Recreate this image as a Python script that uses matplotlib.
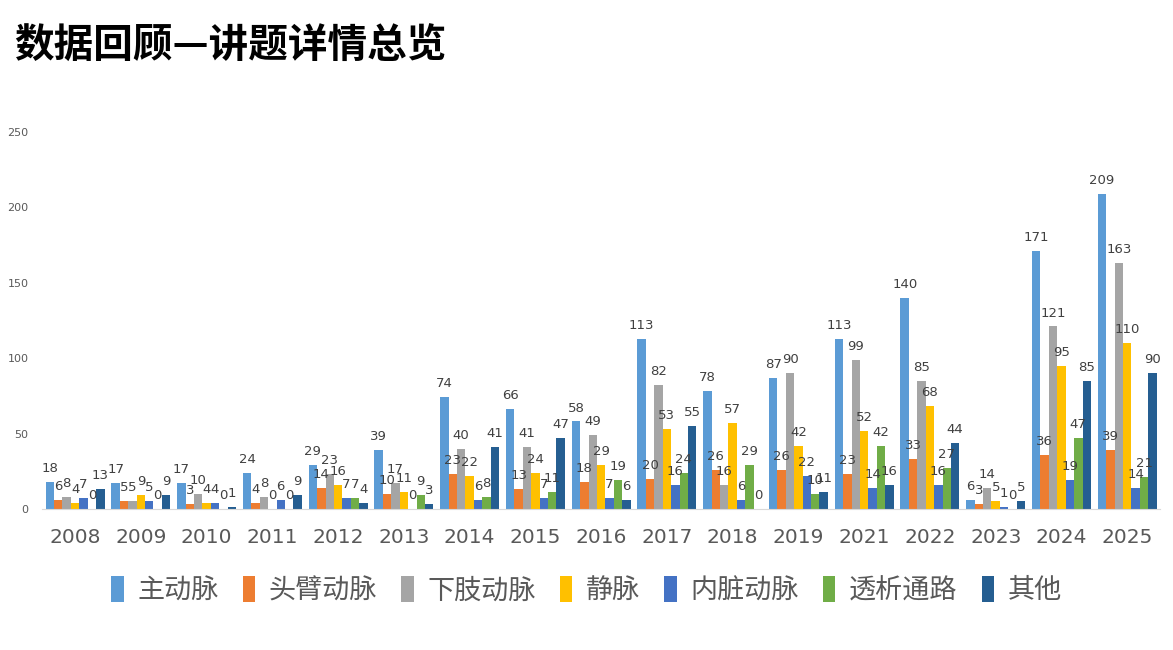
import matplotlib.pyplot as plt
import numpy as np

plt.rcParams['font.family'] = ['Noto Sans CJK SC', 'DejaVu Sans']

years = ['2008', '2009', '2010', '2011', '2012', '2013', '2014', '2015', '2016',
         '2017', '2018', '2019', '2021', '2022', '2023', '2024', '2025']
series_names = ['主动脉', '头臂动脉', '下肢动脉', '静脉', '内脏动脉', '透析通路', '其他']

aorta = [18, 17, 17, 24, 29, 39, 74, 66, 58, 113, 78, 87, 113, 140, 6, 171, 209]
brachiocephalic = [6, 5, 3, 4, 14, 10, 23, 13, 18, 20, 26, 26, 23, 33, 3, 36, 39]
lower_limb = [8, 5, 10, 8, 23, 17, 40, 41, 49, 82, 16, 90, 99, 85, 14, 121, 163]
vein = [4, 9, 4, 0, 16, 11, 22, 24, 29, 53, 57, 42, 52, 68, 5, 95, 110]
visceral = [7, 5, 4, 6, 7, 0, 6, 7, 7, 16, 6, 22, 14, 16, 1, 19, 14]
dialysis = [0, 0, 0, 0, 7, 9, 8, 11, 19, 24, 29, 10, 42, 27, 0, 47, 21]
other = [13, 9, 1, 9, 4, 3, 41, 47, 6, 55, 0, 11, 16, 44, 5, 85, 90]

data = [aorta, brachiocephalic, lower_limb, vein, visceral, dialysis, other]
colors = ['#5B9BD5', '#ED7D31', '#A5A5A5', '#FFC000', '#4472C4', '#70AD47', '#255E91']

fig = plt.figure(figsize=(11.73, 6.5), dpi=100)
ax = fig.add_axes([0.036, 0.217, 0.953, 0.58])

x = np.arange(len(years))
width = 0.128
for i, (vals, c, name) in enumerate(zip(data, colors, series_names)):
    pos = x + (i - 3) * width
    bars = ax.bar(pos, vals, width, color=c, label=name)
    for b, v in zip(bars, vals):
        ax.annotate(str(v), xy=(b.get_x() + b.get_width() / 2, v),
                    xytext=(0, 5), textcoords='offset points',
                    ha='center', va='bottom', fontsize=9.5, color='#404040',
                    family='DejaVu Sans')

ax.set_xlim(-0.5, len(years) - 0.5)
ax.set_ylim(0, 250)
ax.set_yticks([0, 50, 100, 150, 200, 250])
ax.set_xticks(x)
ax.set_xticklabels(years, fontsize=14.5, color='#595959', family='DejaVu Sans')
for lab in ax.get_yticklabels():
    lab.set_fontsize(8)
    lab.set_color('#595959')
    lab.set_family('DejaVu Sans')
ax.tick_params(axis='both', length=0)
ax.tick_params(axis='y', pad=10)
ax.tick_params(axis='x', pad=14)
for s in ['top', 'right', 'left']:
    ax.spines[s].set_visible(False)
ax.spines['bottom'].set_color('#D9D9D9')

leg = fig.legend(loc='center', bbox_to_anchor=(0.5, 0.092), ncol=7, frameon=False,
                 fontsize=19.5, handlelength=0.45, handleheight=1.1, handletextpad=0.5,
                 columnspacing=0.9)
for t in leg.get_texts():
    t.set_color('#595959')

fig.text(0.012, 0.928, '数据回顾—讲题详情总览', fontsize=28.5, fontweight='bold',
         color='black', ha='left', va='center')

fig.savefig('out.png', dpi=100)
